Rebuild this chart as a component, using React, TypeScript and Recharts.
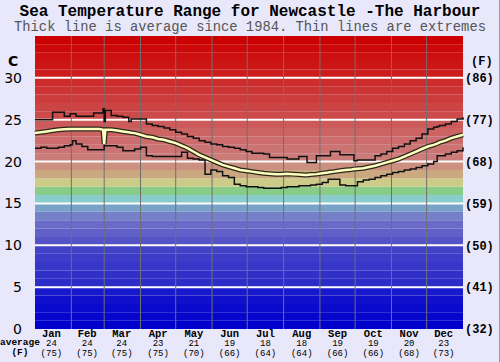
import { ComposedChart, Line, XAxis, YAxis, ReferenceArea, ReferenceLine } from "recharts";

// day of year, every ~5 days
const days = [0, 5, 10, 15, 20, 25, 30, 32, 35, 40, 45, 50, 55, 58, 59, 60, 65, 70, 75, 80, 82, 85, 90, 95, 100, 105, 110, 115, 120, 125, 130, 135, 140, 145, 150, 155, 160, 165, 170, 175, 180, 185, 190, 195, 200, 205, 210, 215, 220, 225, 230, 232, 235, 240, 245, 250, 252, 255, 260, 265, 270, 272, 275, 280, 285, 290, 295, 300, 305, 310, 315, 320, 325, 330, 335, 340, 343, 345, 350, 355, 360, 365];
const maxTemp = [25.0, 25.0, 25.0, 25.9, 25.9, 25.4, 25.7, 25.7, 25.4, 25.4, 25.4, 25.8, 25.8, 26.3, 24.8, 26.1, 25.5, 25.4, 25.3, 24.8, 25.1, 25.1, 25.1, 24.5, 24.3, 24.2, 24.0, 23.8, 23.5, 23.3, 23.0, 22.8, 22.5, 22.3, 22.1, 22.0, 21.8, 21.7, 21.6, 21.4, 21.2, 21.0, 21.0, 20.9, 20.5, 20.5, 20.5, 20.3, 20.3, 20.6, 20.6, 19.9, 19.9, 20.7, 20.7, 20.7, 21.2, 21.2, 20.8, 20.8, 20.8, 20.1, 20.2, 20.2, 20.2, 20.7, 20.9, 21.2, 21.6, 21.8, 22.1, 22.5, 22.8, 23.3, 23.9, 24.1, 24.2, 24.3, 24.5, 24.8, 25.1, 25.3];
const avgTemp = [23.4, 23.5, 23.6, 23.7, 23.8, 23.85, 23.9, 23.9, 23.9, 23.9, 23.9, 23.9, 23.9, 23.8, 22.1, 23.8, 23.8, 23.7, 23.6, 23.5, 23.45, 23.4, 23.2, 23.0, 22.9, 22.7, 22.6, 22.4, 22.2, 21.9, 21.6, 21.2, 20.8, 20.5, 20.2, 19.9, 19.6, 19.4, 19.2, 19.0, 18.9, 18.8, 18.7, 18.6, 18.55, 18.5, 18.5, 18.55, 18.5, 18.45, 18.4, 18.4, 18.45, 18.5, 18.6, 18.7, 18.75, 18.8, 18.9, 19.0, 19.05, 19.1, 19.15, 19.2, 19.35, 19.5, 19.7, 19.9, 20.1, 20.3, 20.6, 20.9, 21.2, 21.5, 21.8, 22.0, 22.15, 22.3, 22.5, 22.8, 23.0, 23.2];
const minTemp = [21.6, 21.7, 21.6, 21.6, 21.7, 21.9, 22.0, 22.5, 22.1, 21.8, 21.4, 21.4, 21.4, 21.4, 21.9, 21.9, 21.9, 21.7, 21.3, 21.3, 21.3, 21.5, 21.7, 20.7, 20.6, 20.6, 20.6, 20.6, 20.6, 21.1, 20.4, 20.3, 20.2, 18.5, 19.0, 18.8, 18.3, 18.1, 17.3, 17.1, 17.0, 17.0, 16.9, 16.8, 16.8, 16.8, 16.9, 17.0, 17.0, 17.1, 17.1, 17.1, 17.2, 17.3, 17.5, 17.9, 17.9, 17.9, 17.2, 17.1, 17.1, 17.1, 17.6, 17.8, 17.9, 18.1, 18.3, 18.5, 18.7, 18.8, 19.0, 19.1, 19.3, 19.5, 19.7, 20.0, 20.7, 20.7, 20.9, 21.1, 21.3, 21.7];

const months = ["Jan", "Feb", "Mar", "Apr", "May", "Jun", "Jul", "Aug", "Sep", "Oct", "Nov", "Dec"];
const monthAvgC = [24, 24, 24, 23, 21, 19, 18, 18, 19, 19, 20, 23];
const monthAvgF = [75, 75, 75, 75, 70, 66, 64, 64, 66, 66, 68, 73];
const monthStarts = [31, 59, 90, 120, 151, 181, 212, 243, 273, 304, 334];
const monthMids = [14, 44.5, 74, 105, 135.5, 166, 196.5, 227.5, 258, 288.5, 319, 348.5];
const cTicks = [0, 5, 10, 15, 20, 25, 30];

// one fill per degree band, 0-1 up to 34-35
const bandColors = [
  "#0000cc", "#0505cc", "#0a0acc", "#1010cc", "#1818cc",
  "#2c2cc8", "#3030c8", "#3636c8", "#3c3cc8", "#4242c8",
  "#5454c8", "#6060c8", "#6a6ac8", "#7580c8", "#7aa2c8",
  "#88cccc", "#88cc88", "#cccc88", "#cca880", "#cc9080",
  "#cc7c78", "#cc7474", "#cc6c6c", "#cc6464", "#cc5a5a",
  "#cc4a4a", "#cc4444", "#cc3c3c", "#cc3434", "#cc2c2c",
  "#cc1c1c", "#cc1616", "#cc1010", "#cc0808", "#cc0000",
];

const rows = days.map((d, i) => ({ day: d, max: maxTemp[i], avg: avgTemp[i], min: minTemp[i] }));

const mono = "'Liberation Mono', 'DejaVu Sans Mono', monospace";

function MonthTick(props: any) {
  const { x, y, payload } = props;
  const i = monthMids.indexOf(payload.value);
  return (
    <g>
      <text x={x} y={y + 8} textAnchor="middle" fontFamily={mono} fontWeight="bold" fontSize={10.5} fill="#000">{months[i]}</text>
      <text x={x} y={y + 17} textAnchor="middle" fontFamily={mono} fontSize={9} fill="#000">{monthAvgC[i]}</text>
      <text x={x} y={y + 27} textAnchor="middle" fontFamily={mono} fontSize={9} fill="#000">({monthAvgF[i]})</text>
    </g>
  );
}

export default function App() {
  return (
    <div style={{ position: "absolute", left: 0, top: 0, width: 499, height: 362, background: "#e8e8fa", borderRight: "1px solid #999" }}>
      <div style={{ position: "absolute", left: 0, top: 3, width: 500, textAlign: "center", fontFamily: mono, fontWeight: "bold", fontSize: 16, lineHeight: "18px", color: "#000" }}>
        Sea Temperature Range for Newcastle -The Harbour
      </div>
      <div style={{ position: "absolute", left: 0, top: 20, width: 500, textAlign: "center", fontFamily: mono, fontSize: 13.8, lineHeight: "16px", color: "#555" }}>
        Thick line is average since 1984. Thin lines are extremes
      </div>
      <ComposedChart width={500} height={362} data={rows} margin={{ top: 36, right: 0, bottom: 0, left: 0 }}>
        {bandColors.map((c, i) => (
          <ReferenceArea key={i} y1={i} y2={i + 1} fill={c} fillOpacity={1} stroke="none" />
        ))}
        {cTicks.slice(1).map((t) => (
          <ReferenceLine key={"h" + t} y={t} stroke="#ffffff" strokeWidth={2} />
        ))}
        {monthStarts.map((d) => (
          <ReferenceLine key={"v" + d} x={d} stroke="#707070" strokeWidth={1} />
        ))}
        <XAxis dataKey="day" type="number" domain={[0, 365]} ticks={monthMids} interval={0} height={33} axisLine={false} tickLine={false} tickSize={0} tickMargin={0} tick={<MonthTick />} />
        <YAxis domain={[0, 35]} ticks={cTicks} width={35} axisLine={false} tickLine={false} tickSize={0} tickMargin={13} allowDataOverflow
          tick={{ fill: "#000", fontSize: 14, fontFamily: "'DejaVu Sans', sans-serif" }} />
        <YAxis yAxisId="r" orientation="right" domain={[0, 35]} ticks={cTicks} width={37} axisLine={false} tickLine={false} tickSize={0} tickMargin={2} allowDataOverflow
          tickFormatter={(v: number) => `(${Math.round((v * 9) / 5 + 32)})`}
          tick={{ fill: "#000", fontSize: 12, fontFamily: mono, fontWeight: "bold" }} />
        <Line yAxisId="r" dataKey="avg" stroke="none" dot={false} activeDot={false} isAnimationActive={false} />
        <Line dataKey="max" type="stepAfter" stroke="#111" strokeWidth={1.5} dot={false} isAnimationActive={false} />
        <Line dataKey="min" type="stepAfter" stroke="#111" strokeWidth={1.5} dot={false} isAnimationActive={false} />
        <Line dataKey="avg" type="linear" stroke="#2a2a1a" strokeWidth={5} dot={false} isAnimationActive={false} />
        <Line dataKey="avg" type="linear" stroke="#ffffc0" strokeWidth={2.5} dot={false} isAnimationActive={false} />
      </ComposedChart>
      <div style={{ position: "absolute", left: 8, top: 53, fontFamily: "'DejaVu Sans', sans-serif", fontSize: 14, fontWeight: "bold", color: "#000" }}>C</div>
      <div style={{ position: "absolute", left: 471, top: 55, fontFamily: mono, fontSize: 12, fontWeight: "bold", color: "#000" }}>(F)</div>
      <div style={{ position: "absolute", left: 0, top: 338, fontFamily: mono, fontSize: 9.5, fontWeight: "bold", lineHeight: "10px", color: "#000", textAlign: "center" }}>
        average<br />(F)
      </div>
    </div>
  );
}
